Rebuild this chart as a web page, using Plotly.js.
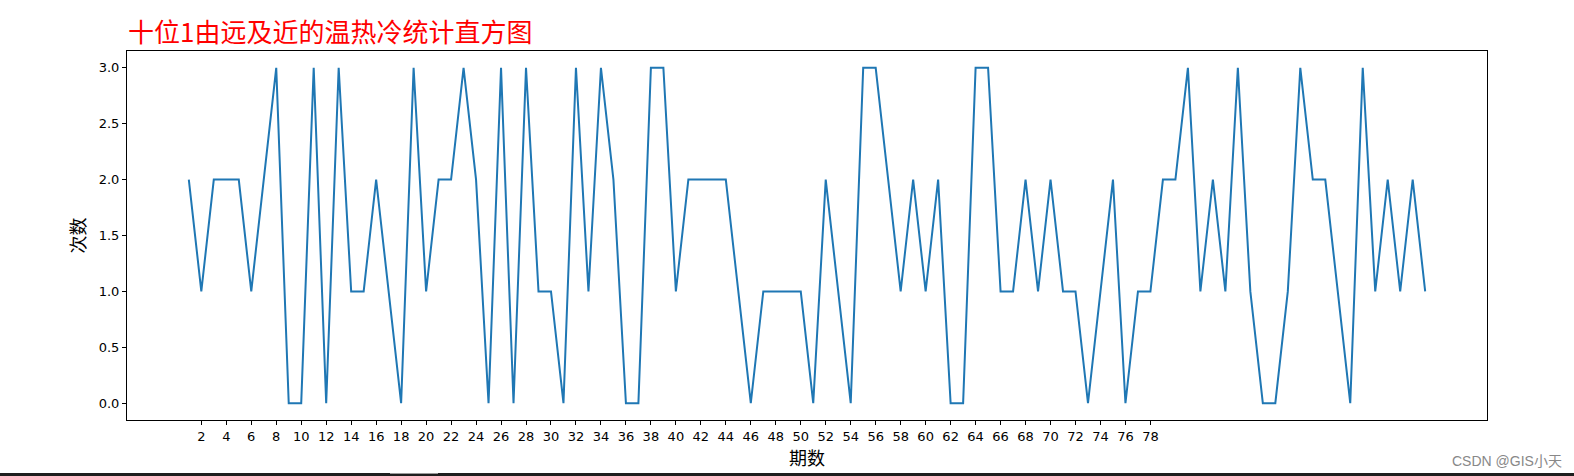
<!DOCTYPE html>
<html>
<head>
<meta charset="utf-8">
<script src="https://cdn.plot.ly/plotly-3.0.1.min.js"></script>
<style>
html,body{margin:0;padding:0;background:#fff;}
#chart{width:1574px;height:476px;position:relative;}
#bar{position:absolute;left:0;top:473px;width:1574px;height:3px;background:#1e1e1e;}
#bar2{position:absolute;left:390px;top:473px;width:48px;height:1px;background:#9a9a9a;}
#wm{position:absolute;left:1452px;top:450px;font-family:"Liberation Sans","Noto Sans CJK SC",sans-serif;font-size:14px;color:#888;white-space:nowrap;}
</style>
</head>
<body>
<div id="chart"></div>
<div id="bar"></div><div id="bar2"></div>
<div id="wm">CSDN @GIS小天</div>
<script>
const periods = Array.from({length:100},(_,i)=>i+1);
const counts = [
2,1,2,2,2,1,2,3,0,0,
3,0,3,1,1,2,1,0,3,1,
2,2,3,2,0,3,0,3,1,1,
0,3,1,3,2,0,0,3,3,1,
2,2,2,2,1,0,1,1,1,1,
0,2,1,0,3,3,2,1,2,1,
2,0,0,3,3,1,1,2,1,2,
1,1,0,1,2,0,1,1,2,2,
3,1,2,1,3,1,0,0,1,3,
2,2,1,0,3,1,2,1,2,1
];
const xTickVals = [2,4,6,8,10,12,14,16,18,20,22,24,26,28,30,32,34,36,38,40,42,44,46,48,50,52,54,56,58,60,62,64,66,68,70,72,74,76,78];
const yTickVals = [0,0.5,1,1.5,2,2.5,3];
const titleText = "十位1由远及近的温热冷统计直方图";
const xTitle = "期数";
const yTitle = "次数";

const tickFont = {family:"DejaVu Sans, sans-serif", size:13, color:"#000"};
Plotly.newPlot("chart", [{
  x: periods, y: counts, type:"scatter", mode:"lines",
  line:{color:"#1f77b4", width:2}, hoverinfo:"x+y"
}], {
  width:1574, height:476,
  margin:{l:127, r:87, t:51, b:56},
  paper_bgcolor:"#fff", plot_bgcolor:"#fff",
  showlegend:false,
  title:{text:titleText, x:128/1574, xanchor:"left", y:1-33/476, yanchor:"middle",
    font:{family:"Noto Sans CJK SC, sans-serif", size:26, color:"#ff0000"}},
  xaxis:{range:[-3.95,104.95], tickmode:"array", tickvals:xTickVals, ticktext:xTickVals.map(String),
    showgrid:false, zeroline:false, showline:true, mirror:true, linecolor:"#000", linewidth:1,
    ticks:"outside", ticklen:4, tickwidth:1, tickcolor:"#000", tickfont:tickFont,
    title:{text:xTitle, standoff:6, font:{family:"Noto Sans CJK SC, sans-serif", size:18, color:"#000"}}},
  yaxis:{range:[-0.15,3.15], tickmode:"array", tickvals:yTickVals, ticktext:yTickVals.map(v=>v.toFixed(1)),
    showgrid:false, zeroline:false, showline:true, mirror:true, linecolor:"#000", linewidth:1,
    ticks:"outside", ticklen:4, tickwidth:1, tickcolor:"#000", tickfont:tickFont,
    title:{text:yTitle, standoff:8, font:{family:"Noto Sans CJK SC, sans-serif", size:18, color:"#000"}}}
}, {displayModeBar:false, staticPlot:true});
</script>
</body>
</html>
